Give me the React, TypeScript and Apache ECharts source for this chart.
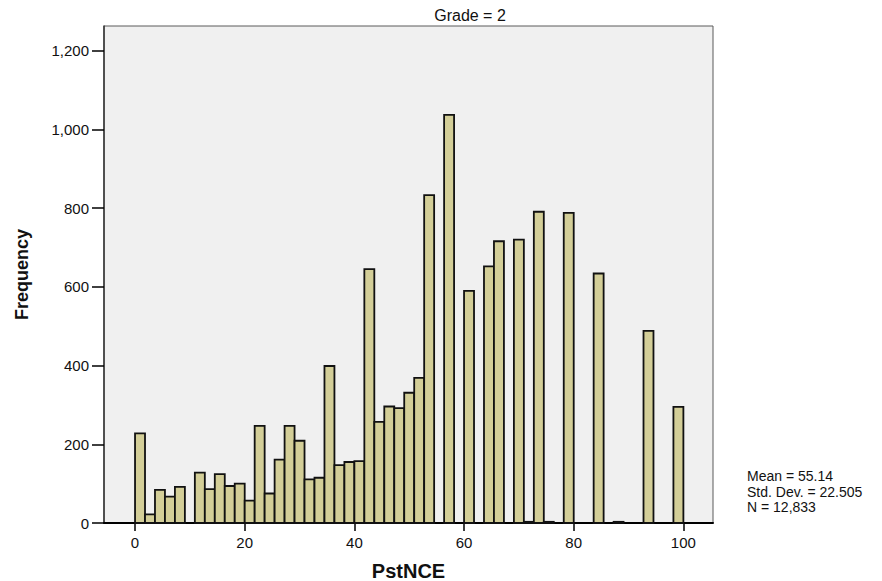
import React, { useEffect, useRef } from "react";
import * as echarts from "echarts";

// Histogram of PstNCE, Grade = 2 (55 equal-width bins from 0 to 100)
const binCount = 55;
const binMin = 0;
const binMax = 100;
const frequencies = [
  228, 22, 84, 67, 92, 0, 128, 86, 124, 94,
  100, 57, 247, 75, 161, 247, 209, 111, 115, 399,
  147, 155, 157, 645, 257, 296, 292, 331, 369, 833,
  0, 1037, 0, 590, 0, 652, 716, 0, 720, 3,
  791, 3, 0, 788, 0, 0, 634, 0, 3, 0,
  0, 488, 0, 0, 295,
];
const xTicks = [0, 20, 40, 60, 80, 100];
const yTicks = [0, 200, 400, 600, 800, 1000, 1200];
const statLines = ["Mean = 55.14", "Std. Dev. = 22.505", "N = 12,833"];
const panelTitle = "Grade = 2";

const FONT = "'Liberation Sans', Arial, sans-serif";

export default function App() {
  const ref = useRef<HTMLDivElement>(null);
  useEffect(() => {
    if (!ref.current) return;
    const chart = echarts.init(ref.current, undefined, { renderer: "svg" });
    const w = (binMax - binMin) / binCount;
    const data = frequencies.map((f, i) => [binMin + i * w, binMin + (i + 1) * w, f]);
    chart.setOption({
      animation: false,
      backgroundColor: "#ffffff",
      grid: {
        left: 104,
        right: 169,
        top: 26,
        bottom: 58,
        containLabel: false,
        outerBoundsMode: "none",
        show: true,
        backgroundColor: "#F0F0F0",
        borderColor: "#5a5a5a",
        borderWidth: 1,
      },
      xAxis: {
        type: "value",
        min: -5.66,
        max: 105.4,
        splitLine: { show: false },
        axisLine: { show: true, onZero: false, lineStyle: { color: "#000", width: 2 } },
        axisTick: {
          show: true,
          length: 8,
          customValues: xTicks,
          lineStyle: { color: "#000", width: 1.5 },
        },
        axisLabel: {
          customValues: xTicks,
          margin: 12,
          fontSize: 15,
          fontFamily: FONT,
          color: "#111",
        },
        name: "PstNCE",
        nameLocation: "middle",
        nameGap: 38,
        nameTextStyle: { fontSize: 20, fontWeight: "bold", fontFamily: FONT, color: "#111" },
      },
      yAxis: {
        type: "value",
        min: 0,
        max: 1263,
        splitLine: { show: false },
        axisLine: { show: true, onZero: false, lineStyle: { color: "#333", width: 1.5 } },
        axisTick: {
          show: true,
          length: 12,
          customValues: yTicks,
          lineStyle: { color: "#000", width: 1.5 },
        },
        axisLabel: {
          customValues: yTicks,
          margin: 15,
          fontSize: 15,
          fontFamily: FONT,
          color: "#111",
          formatter: (v: number) => v.toLocaleString("en-US"),
        },
        name: "Frequency",
        nameLocation: "middle",
        nameRotate: 90,
        nameGap: 73,
        nameTextStyle: { fontSize: 18, fontWeight: "bold", fontFamily: FONT, color: "#111" },
      },
      series: [
        {
          type: "custom",
          data,
          encode: { x: [0, 1], y: 2 },
          renderItem: (params: any, api: any) => {
            const x0 = api.value(0);
            const x1 = api.value(1);
            const v = api.value(2);
            if (!v) return null;
            const p0 = api.coord([x0, v]);
            const p1 = api.coord([x1, 0]);
            return {
              type: "rect",
              shape: { x: p0[0], y: p0[1], width: p1[0] - p0[0], height: p1[1] - p0[1] },
              style: { fill: "#D3CE98", stroke: "#111", lineWidth: 1.8 },
            };
          },
        },
      ],
      graphic: [
        {
          type: "text",
          x: 470,
          y: 15,
          style: {
            text: panelTitle,
            fontSize: 16,
            fontFamily: FONT,
            fill: "#111",
            align: "center",
            verticalAlign: "middle",
          },
        },
        ...statLines.map((t, i) => ({
          type: "text",
          x: 747,
          y: 476 + i * 15.5,
          style: {
            text: t,
            fontSize: 14,
            fontFamily: FONT,
            fill: "#111",
            align: "left",
            verticalAlign: "middle",
          },
        })),
      ],
    });
    return () => chart.dispose();
  }, []);
  return (
    <div
      ref={ref}
      style={{ position: "fixed", left: 0, top: 0, width: 882, height: 581 }}
    />
  );
}
